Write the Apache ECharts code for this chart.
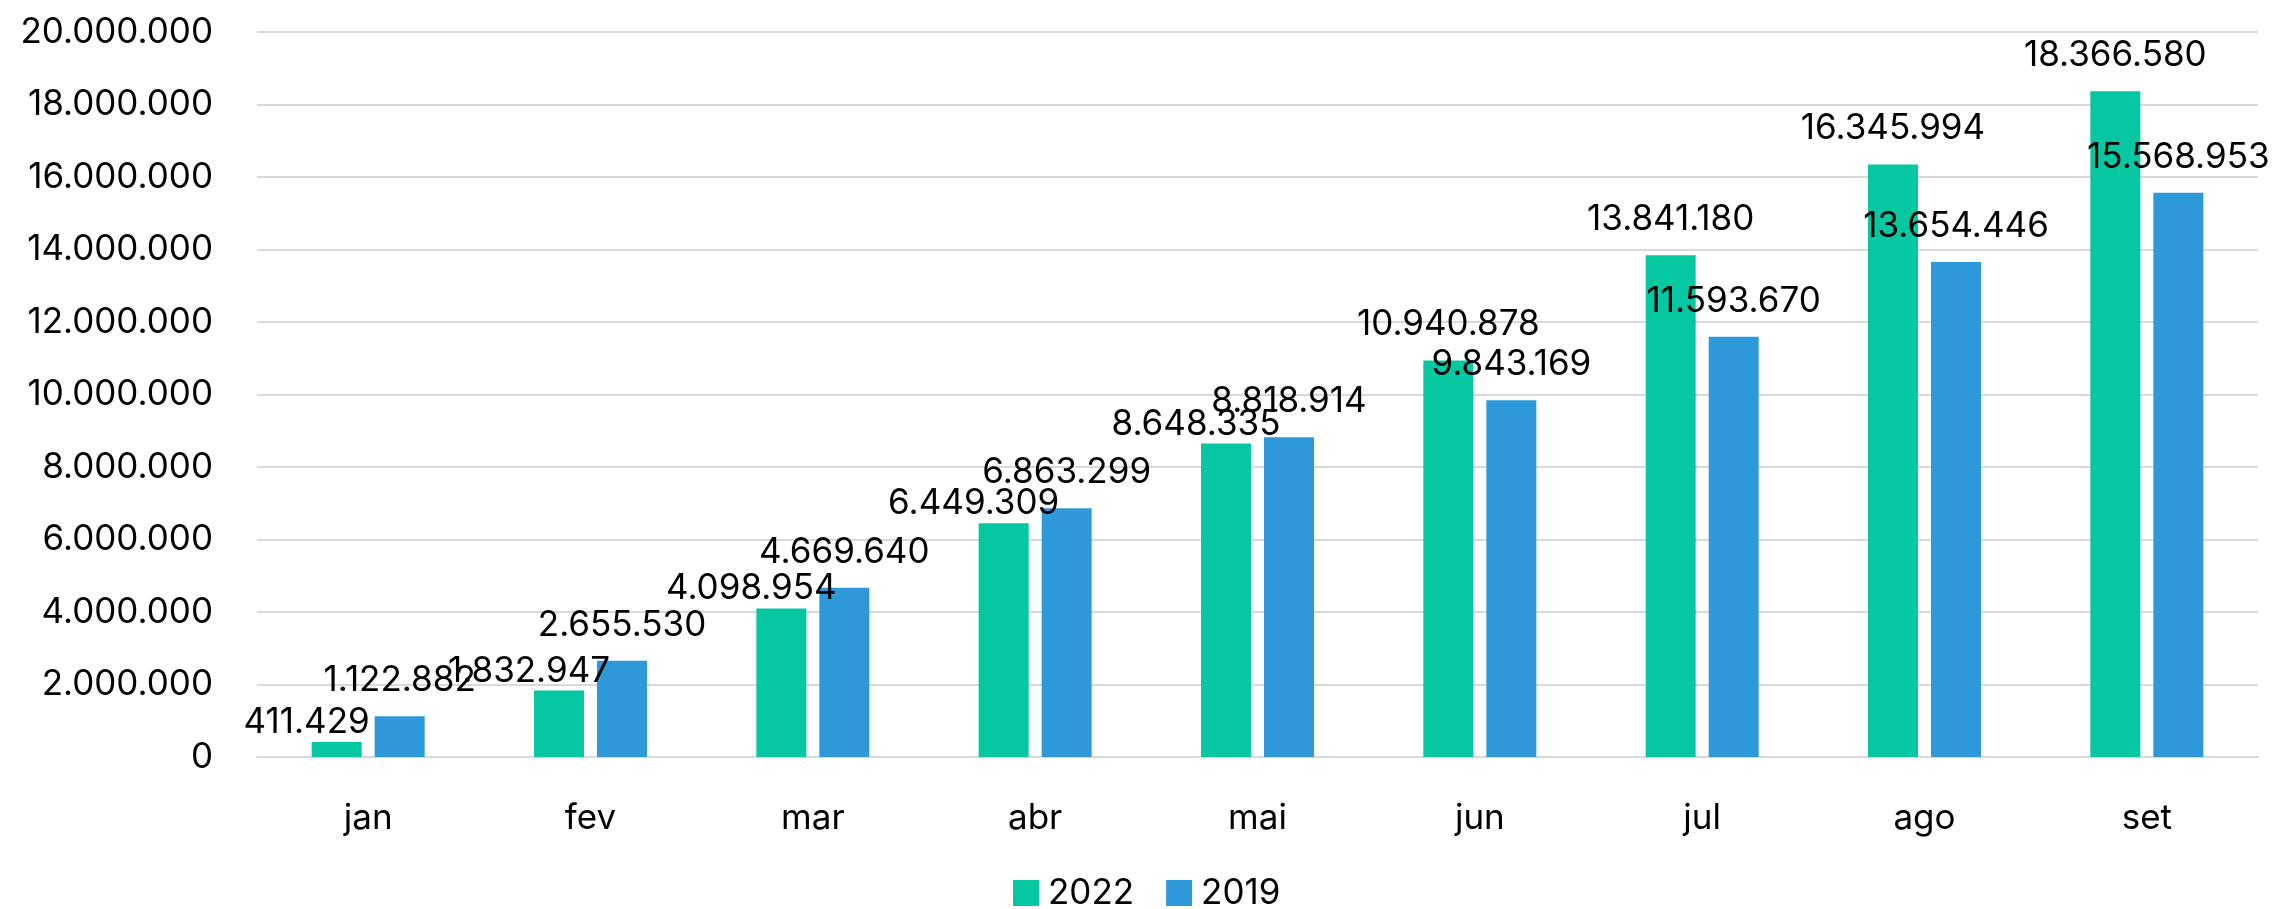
<!DOCTYPE html>
<html>
<head>
<meta charset="utf-8">
<script src="https://cdn.jsdelivr.net/npm/echarts@6/dist/echarts.min.js"></script>
<style>
html,body{margin:0;padding:0;background:#fff;}
#chart{width:2277px;height:909px;}
</style>
</head>
<body>
<div id="chart"></div>
<script>
const categories = ['jan','fev','mar','abr','mai','jun','jul','ago','set'];
const seriesNames = ['2022','2019'];
const values2022 = [411429, 1832947, 4098954, 6449309, 8648335, 10940878, 13841180, 16345994, 18366580];
const values2019 = [1122882, 2655530, 4669640, 6863299, 8818914, 9843169, 11593670, 13654446, 15568953];
const yTicks = [0, 2000000, 4000000, 6000000, 8000000, 10000000, 12000000, 14000000, 16000000, 18000000, 20000000];

const FONT = 'Inter, "Open Sans", sans-serif';
function fmt(v){ return String(v).replace(/\B(?=(\d{3})+(?!\d))/g, '.'); }

const chart = echarts.init(document.getElementById('chart'));
chart.setOption({
  backgroundColor: '#ffffff',
  animation: false,
  textStyle: { fontFamily: FONT },
  grid: { left: 257, right: 19, top: 32, bottom: 152, containLabel: false },
  legend: {
    data: seriesNames,
    left: 1013, top: 873, padding: 0,
    icon: 'rect', itemWidth: 26, itemHeight: 26, itemGap: 32,
    textStyle: { fontFamily: FONT, fontSize: 35, lineHeight: 40, color: '#000', padding: [0,0,0,4] }
  },
  xAxis: {
    type: 'category',
    data: categories,
    axisLine: { show: true, lineStyle: { color: '#D9D9D9', width: 2 } },
    axisTick: { show: false },
    axisLabel: { fontFamily: FONT, fontSize: 35, color: '#000', margin: 44 }
  },
  yAxis: {
    type: 'value',
    min: yTicks[0], max: yTicks[yTicks.length - 1], interval: yTicks[1] - yTicks[0],
    axisLine: { show: false }, axisTick: { show: false },
    splitLine: { lineStyle: { color: '#D9D9D9', width: 2 } },
    axisLabel: { fontFamily: FONT, fontSize: 35, color: '#000', margin: 44, formatter: fmt }
  },
  series: [
    {
      name: seriesNames[0], type: 'bar', data: values2022,
      barWidth: 50, barGap: '26%',
      itemStyle: { color: '#05C7A1' },
      label: { show: true, position: 'top', distance: 18, fontFamily: FONT, fontSize: 35, color: '#000', formatter: p => fmt(p.value) },
      // when the neighbouring 2019 bar is taller, the 2022 label is nudged left/down (as in the source)
      labelLayout: function (p) {
        if (values2019[p.dataIndex] > values2022[p.dataIndex]) {
          return { dx: -30, dy: 16 };
        }
        return {};
      }
    },
    {
      name: seriesNames[1], type: 'bar', data: values2019,
      barWidth: 50, barGap: '26%',
      itemStyle: { color: '#2E99D8' },
      label: { show: true, position: 'top', distance: 18, fontFamily: FONT, fontSize: 35, color: '#000', formatter: p => fmt(p.value) }
    }
  ]
});
</script>
</body>
</html>
